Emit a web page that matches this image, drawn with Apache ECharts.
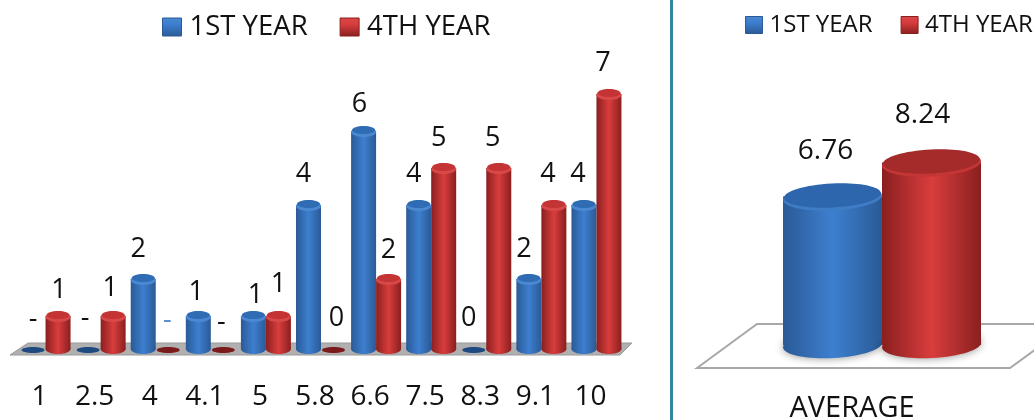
<!DOCTYPE html>
<html><head><meta charset="utf-8">
<style>html,body{margin:0;padding:0;background:#fff;overflow:hidden}#c{width:1034px;height:420px}</style>
<script src="https://cdn.jsdelivr.net/npm/echarts@6/dist/echarts.min.js"></script>
</head><body><div id="c"></div>
<script>
const categories = ['1','2.5','4','4.1','5','5.8','6.6','7.5','8.3','9.1','10'];
const firstYear = [0,0,2,1,1,4,6,4,0,2,4];
const fourthYear = [1,1,0,0,1,0,2,5,5,4,7];
const firstYearText = ['-','-','2','1','1','4','6','4','0','2','4'];
const fourthYearText = ['1','1','-','-','1','0','2','5','5','4','7'];
const avgCategories = ['AVERAGE'];
const avgFirst = [6.76];
const avgFourth = [8.24];
const avgFirstText = ['6.76'];
const avgFourthText = ['8.24'];
// label nudges (px) relative to each cylinder
const firstDx = [0,-3,-5,-2,2,-5,-4,-5,-5,-5,-6];
const firstGap = [30,31,26,20,17,27,23,27,31,26,27];
const fourthDx = [1,-3,-1,-2,0,3,0,-5,-6,-6,-6];
const fourthGap = [22,24,29,27,28,31,25,26,26,27,27];

const FONT = '"Open Sans","Noto Sans",sans-serif';
const BLUE = {edge:'#2a5a96',mid:'#3d7fcf',cap:'#2f6cb4',rim:'#4a88d2',flat:'#1f4a80',capR:'#2d66ac',rimR:'#3f7cc6'};
const RED  = {edge:'#8a1f1f',mid:'#d93d3d',cap:'#c43434',rim:'#d84848',flat:'#7a1a1a',capR:'#a52b2b',rimR:'#c43636'};
const grad = (c)=>new echarts.graphic.LinearGradient(0,0,1,0,[
  {offset:0,color:c.edge},{offset:.5,color:c.mid},{offset:1,color:c.edge}]);

function cylinder(pal, side, o){
  return function(params, api){
    const i = api.value(0), v = api.value(1);
    const p = api.coord([i, v]), z = api.coord([i, 0]);
    const cx = p[0] + side*o.w/2;
    const kids = [];
    if (v === 0){
      kids.push({type:'ellipse',shape:{cx:cx,cy:z[1]-o.lift+1,rx:o.w/2-1,ry:3},style:{fill:pal.flat}});
    } else {
      const by = z[1]-o.lift;
      const ty = p[1]-o.capUp;
      kids.push({type:'ellipse',shape:{cx:cx,cy:by,rx:o.w/2,ry:o.ry},rotation:o.tilt,originX:cx,originY:by,
        style:{fill:grad(pal),shadowBlur:o.shadow,shadowColor:'rgba(0,0,0,.45)'}});
      kids.push({type:'rect',shape:{x:cx-o.w/2,y:ty,width:o.w,height:by-ty},style:{fill:grad(pal)}});
      kids.push({type:'ellipse',shape:{cx:cx,cy:ty+1,rx:o.w/2,ry:o.ry},rotation:o.tilt,originX:cx,originY:ty,style:{fill:o.big?pal.rimR:pal.rim}});
      kids.push({type:'ellipse',shape:{cx:cx,cy:ty-1,rx:o.w/2-1,ry:o.ry-1},rotation:o.tilt,originX:cx,originY:ty,style:{fill:o.big?pal.capR:pal.cap}});
    }
    const t = o.text[i];
    kids.push({type:'text',z2:10,style:{text:t,x:cx+o.dx[i],y:p[1]-o.topOff-o.gap[i],
      fontSize:o.fs,fontFamily:FONT,fill:(t==='-'&&i===2)?'#5b8fd0':'#111',align:'center',verticalAlign:'middle'}});
    return {type:'group',children:kids};
  };
}
const leftOpt = {w:25,ry:5,tilt:0,lift:6,topOff:6,capUp:2,fs:27,shadow:0,big:false};
const rightOpt = {w:99,ry:13,tilt:0.05,lift:7,topOff:0,capUp:0,fs:28,shadow:8,big:true};

function legendIcon(c){
  return {color:new echarts.graphic.LinearGradient(0,0,0,1,[
    {offset:0,color:c.rim},{offset:.35,color:c.mid},{offset:1,color:c.edge}]),borderColor:c.edge,borderWidth:1};
}
const legendData = ()=>[
  {name:'1ST YEAR',icon:'rect',itemStyle:legendIcon(BLUE)},
  {name:'4TH YEAR',icon:'rect',itemStyle:legendIcon(RED)}];

const rows = (arr)=>arr.map((v,i)=>[i,v]);
const series = [
  {name:'1ST YEAR',type:'custom',xAxisIndex:0,yAxisIndex:0,clip:false,itemStyle:{color:BLUE.mid},encode:{x:0,y:1},data:rows(firstYear),
   renderItem:cylinder(BLUE,-1,{...leftOpt,text:firstYearText,dx:firstDx,gap:firstGap})},
  {name:'4TH YEAR',type:'custom',xAxisIndex:0,yAxisIndex:0,clip:false,itemStyle:{color:RED.mid},encode:{x:0,y:1},data:rows(fourthYear),
   renderItem:cylinder(RED,1,{...leftOpt,text:fourthYearText,dx:fourthDx,gap:fourthGap})},
  {name:'1ST YEAR',type:'custom',xAxisIndex:1,yAxisIndex:1,clip:false,itemStyle:{color:BLUE.mid},encode:{x:0,y:1},data:rows(avgFirst),
   renderItem:cylinder(BLUE,-1,{...rightOpt,text:avgFirstText,dx:[-7],gap:[45]})},
  {name:'4TH YEAR',type:'custom',xAxisIndex:1,yAxisIndex:1,clip:false,itemStyle:{color:RED.mid},encode:{x:0,y:1},data:rows(avgFourth),
   renderItem:cylinder(RED,1,{...rightOpt,text:avgFourthText,dx:[-9],gap:[47]})}
];

const chart = echarts.init(document.getElementById('c'),null,{renderer:'canvas'});
chart.setOption({
  animation:false,backgroundColor:'#fff',
  legend:[
    {left:162,top:13,padding:0,itemWidth:19,itemHeight:18,itemGap:32,selectedMode:false,data:legendData(),
     textStyle:{fontFamily:FONT,fontSize:27.5,color:'#111',padding:[0,0,0,3]}},
    {left:745,top:13,padding:0,itemWidth:17,itemHeight:17,itemGap:28,selectedMode:false,data:legendData(),
     textStyle:{fontFamily:FONT,fontSize:24,color:'#111',padding:[0,0,0,2]}}
  ],
  grid:[
    {left:18,width:606,top:59,height:296,outerBoundsMode:'none'},
    {left:732,width:300,top:122,height:230,outerBoundsMode:'none'}
  ],
  xAxis:[
    {type:'category',gridIndex:0,data:categories,axisLine:{show:false},axisTick:{show:false},
     axisLabel:{interval:0,margin:28,padding:[0,12,0,0],fontFamily:FONT,fontSize:28,color:'#111'}},
    {type:'category',gridIndex:1,data:avgCategories,axisLine:{show:false},axisTick:{show:false},
     axisLabel:{interval:0,margin:42,padding:[0,60,0,0],fontFamily:FONT,fontSize:29,color:'#111'}}
  ],
  yAxis:[
    {type:'value',gridIndex:0,min:0,max:8,show:false},
    {type:'value',gridIndex:1,min:0,max:10,show:false}
  ],
  graphic:[
    {type:'rect',z:0,shape:{x:670,y:0,width:3,height:420},style:{fill:'#2e87a3'}},
    {type:'polygon',z:0,shape:{points:[[10,355],[28,343],[632,343],[620,355]]},style:{fill:'#b0b0b0',stroke:'#9a9a9a',lineWidth:1}},
    {type:'polygon',z:0,shape:{points:[[697,368],[757,324],[1070,324],[1010,368]]},style:{fill:'#fff',stroke:'#a8a8a8',lineWidth:2}}
  ],
  series:series
});
</script></body></html>
